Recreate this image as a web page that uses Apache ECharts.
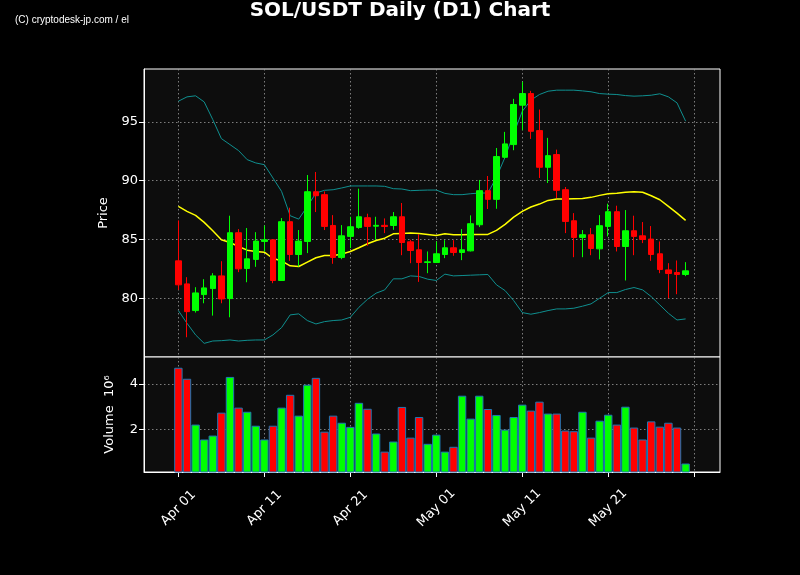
<!DOCTYPE html>
<html>
<head>
<meta charset="utf-8">
<script src="https://cdn.jsdelivr.net/npm/echarts@6/dist/echarts.min.js"></script>
<style>
html,body{margin:0;padding:0;background:#000;}
#chart{width:800px;height:575px;}
</style>
</head>
<body>
<div id="chart"></div>
<script>
// ---- data ----
const leadDates = ['Mar 28','Mar 29','Mar 30','Mar 31'];
const dates = [
 'Apr 01','Apr 02','Apr 03','Apr 04','Apr 05','Apr 06','Apr 07','Apr 08','Apr 09','Apr 10',
 'Apr 11','Apr 12','Apr 13','Apr 14','Apr 15','Apr 16','Apr 17','Apr 18','Apr 19','Apr 20',
 'Apr 21','Apr 22','Apr 23','Apr 24','Apr 25','Apr 26','Apr 27','Apr 28','Apr 29','Apr 30',
 'May 01','May 02','May 03','May 04','May 05','May 06','May 07','May 08','May 09','May 10',
 'May 11','May 12','May 13','May 14','May 15','May 16','May 17','May 18','May 19','May 20',
 'May 21','May 22','May 23','May 24','May 25','May 26','May 27','May 28','May 29','May 30'
];
const trailDates = ['May 31','Jun 01','Jun 02','Jun 03'];
const tickDates = ['Apr 01','Apr 11','Apr 21','May 01','May 11','May 21','May 31'];
const tickLabels = ['Apr 01','Apr 11','Apr 21','May 01','May 11','May 21'];

const open = [
 83.18,81.22,78.95,80.31,80.82,81.90,79.97,85.57,82.53,83.30,
 84.83,84.97,81.51,86.51,83.72,84.83,89.06,88.81,86.19,83.47,
 85.26,86.02,86.85,86.13,86.20,86.19,86.93,84.80,84.12,83.04,
 83.04,83.72,84.29,83.89,84.03,86.25,89.15,88.41,91.99,93.07,
 96.42,97.41,94.26,91.14,92.22,89.23,86.59,85.17,85.40,84.20,
 86.11,87.36,84.40,85.74,85.31,85.03,83.78,82.41,82.19,82.02
];
const close = [
 81.14,78.86,80.45,80.88,81.90,79.94,85.57,82.50,83.35,84.86,
 84.97,81.51,86.51,83.72,84.86,89.06,88.72,86.11,83.47,85.31,
 86.08,86.93,86.11,86.20,86.10,86.93,84.74,84.06,83.04,83.10,
 83.78,84.29,83.89,84.12,86.34,89.15,88.41,92.05,93.13,96.48,
 97.41,94.20,91.14,92.13,89.18,86.53,85.17,85.40,84.23,86.17,
 87.36,84.40,85.74,85.26,85.00,83.72,82.44,82.10,82.02,82.33
];
const low = [
 80.71,76.68,78.78,79.57,78.52,79.57,78.38,82.22,81.36,82.67,
 83.98,81.28,81.50,83.18,82.70,83.84,87.33,85.80,82.93,83.32,
 84.26,85.91,84.46,84.97,85.54,85.82,83.66,82.98,81.39,82.13,
 83.00,83.41,83.61,83.24,83.98,86.05,87.59,87.61,91.90,92.59,
 94.29,93.55,90.23,89.80,88.52,85.54,83.49,83.49,83.66,83.30,
 85.26,83.98,81.51,83.66,84.69,83.18,82.13,80.00,80.34,81.88
];
const high = [
 86.62,81.79,80.94,81.62,82.13,83.15,87.02,85.88,85.97,85.62,
 86.19,85.00,86.82,87.70,85.80,90.48,90.74,89.09,87.07,86.22,
 86.93,89.32,87.19,86.93,86.79,87.33,88.10,84.97,85.45,83.98,
 84.83,84.94,84.94,85.88,87.05,90.06,90.40,92.78,94.15,96.96,
 98.41,97.64,96.05,93.64,92.64,89.46,87.24,85.80,85.97,87.07,
 88.04,87.87,87.50,87.02,86.48,86.14,84.83,82.98,83.21,83.07
];
// volume in units of 10^6
const volume = [
 4.70,4.22,2.22,1.57,1.74,2.74,4.30,2.96,2.78,2.17,
 1.57,2.17,2.96,3.52,2.61,3.96,4.26,1.91,2.61,2.30,
 2.12,3.17,2.91,1.83,1.04,1.48,2.99,1.65,2.55,1.38,
 1.78,1.04,1.25,3.48,2.48,3.48,2.90,2.64,2.00,2.55,
 3.09,2.83,3.22,2.70,2.70,1.96,1.93,2.78,1.65,2.39,
 2.65,2.22,3.00,2.09,1.57,2.36,2.13,2.30,2.09,0.52
];
const sma = [
 87.81,87.39,87.05,86.45,85.74,84.97,84.74,84.40,84.09,83.98,
 83.92,83.38,83.18,82.76,82.70,83.07,83.44,83.64,83.64,83.75,
 83.98,84.29,84.63,84.91,85.11,85.48,85.51,85.54,85.51,85.43,
 85.34,85.48,85.40,85.40,85.43,85.43,85.43,85.77,86.28,86.90,
 87.39,87.76,88.01,88.32,88.44,88.44,88.47,88.49,88.58,88.75,
 88.89,88.92,89.01,89.06,89.01,88.72,88.38,87.81,87.24,86.62
];
const upperBand = [
 96.76,97.13,97.22,96.70,95.20,93.58,93.07,92.56,91.79,91.51,
 91.36,90.23,89.09,87.02,86.73,87.81,88.95,89.18,89.23,89.38,
 89.55,89.55,89.55,89.55,89.52,89.32,89.29,89.15,89.18,89.20,
 89.20,88.92,88.81,88.81,88.89,88.95,88.95,90.30,92.00,94.00,
 95.90,96.85,97.33,97.61,97.70,97.70,97.70,97.64,97.56,97.41,
 97.36,97.33,97.24,97.19,97.22,97.27,97.39,97.13,96.62,95.06
];
const lowerBand = [
 78.95,77.87,76.88,76.16,76.36,76.39,76.45,76.36,76.42,76.45,
 76.45,76.88,77.50,78.58,78.67,78.10,77.81,78.01,78.10,78.15,
 78.38,79.23,79.91,80.43,80.71,81.65,81.65,81.90,81.85,81.62,
 81.51,82.05,81.90,81.93,81.96,81.99,82.02,81.14,80.65,79.80,
 78.78,78.64,78.78,78.95,79.09,79.09,79.15,79.32,79.52,80.00,
 80.48,80.48,80.74,80.91,80.71,80.14,79.43,78.72,78.15,78.24
];

// ---- build ----
const UP = '#00ff00', DOWN = '#ff0000';
const categories = [...leadDates, ...dates, ...trailDates];
const padL = leadDates.map(() => '-');
const padR = trailDates.map(() => '-');
const candleData = dates.map((d, i) => [d, open[i], close[i], low[i], high[i]]);
const volData = dates.map((d, i) => ({
  value: [d, volume[i]],
  itemStyle: { color: close[i] >= open[i] ? UP : DOWN }
}));
const isTick = (idx, val) => tickDates.indexOf(val) >= 0;
const isLabel = (idx, val) => tickLabels.indexOf(val) >= 0;
const FONT = 'DejaVu Sans';
const gridLine = { show: true, interval: isTick, lineStyle: { color: '#9a9a9a', width: 0.8, type: [1.5, 2.5] } };
const gridLineY = { show: true, lineStyle: { color: '#9a9a9a', width: 0.8, type: [1.5, 2.5] } };

const chart = echarts.init(document.getElementById('chart'), null, { renderer: 'canvas' });
chart.setOption({
  backgroundColor: '#000000',
  animation: false,
  title: {
    text: 'SOL/USDT Daily (D1) Chart',
    left: 'center', top: 1, padding: 0,
    textStyle: { color: '#ffffff', fontSize: 20, fontWeight: 'bold', fontFamily: FONT }
  },
  graphic: [{
    type: 'text', left: 15, top: 15,
    style: { text: '(C) cryptodesk-jp.com / el', fill: '#ffffff', fontSize: 10, fontFamily: 'Liberation Sans Narrow, Liberation Sans, sans-serif' }
  }],
  grid: [
    { left: 144, top: 69, width: 576, height: 288, show: true, backgroundColor: '#0d0d0d', borderColor: '#ffffff', borderWidth: 1 },
    { left: 144, top: 357, width: 576, height: 115, show: true, backgroundColor: '#0d0d0d', borderColor: '#ffffff', borderWidth: 1 }
  ],
  xAxis: [
    { type: 'category', gridIndex: 0, data: categories, boundaryGap: false,
      axisLine: { show: false }, axisTick: { show: false }, axisLabel: { show: false },
      splitLine: gridLine },
    { type: 'category', gridIndex: 1, data: categories, boundaryGap: false,
      axisLine: { show: true, lineStyle: { color: '#ffffff' } },
      axisTick: { show: true, interval: isTick, length: 5, lineStyle: { color: '#ffffff' } },
      axisLabel: { show: true, interval: isLabel, rotate: 45, align: 'center', verticalAlign: 'middle', margin: 36,
        color: '#ffffff', fontSize: 13, fontFamily: FONT },
      splitLine: gridLine }
  ],
  yAxis: [
    { type: 'value', gridIndex: 0, min: 75.0, max: 99.5, minInterval: 5, maxInterval: 5, scale: true,
      name: 'Price', nameLocation: 'middle', nameGap: 34, nameRotate: 90,
      nameTextStyle: { color: '#ffffff', fontSize: 13, fontFamily: FONT },
      axisLine: { show: true, lineStyle: { color: '#ffffff' } },
      axisTick: { show: true, length: 5, customValues: [80, 85, 90, 95], lineStyle: { color: '#ffffff' } },
      axisLabel: { customValues: [80, 85, 90, 95], color: '#ffffff', fontSize: 13, fontFamily: FONT, margin: 6 },
      splitLine: gridLineY },
    { type: 'value', gridIndex: 1, min: 0.15, max: 5.17, minInterval: 2, maxInterval: 2,
      name: 'Volume  10\u2076', nameLocation: 'middle', nameGap: 28, nameRotate: 90,
      nameTextStyle: { color: '#ffffff', fontSize: 13, fontFamily: FONT },
      axisLine: { show: true, lineStyle: { color: '#ffffff' } },
      axisTick: { show: true, length: 5, customValues: [2, 4], lineStyle: { color: '#ffffff' } },
      axisLabel: { customValues: [2, 4], color: '#ffffff', fontSize: 13, fontFamily: FONT, margin: 6 },
      splitLine: gridLineY }
  ],
  series: [
    { name: 'Upper', type: 'line', xAxisIndex: 0, yAxisIndex: 0, data: [...padL, ...upperBand, ...padR],
      symbol: 'none', lineStyle: { color: '#0f8f8f', width: 1 }, z: 2 },
    { name: 'Lower', type: 'line', xAxisIndex: 0, yAxisIndex: 0, data: [...padL, ...lowerBand, ...padR],
      symbol: 'none', lineStyle: { color: '#0f8f8f', width: 1 }, z: 2 },
    { name: 'SMA', type: 'line', xAxisIndex: 0, yAxisIndex: 0, data: [...padL, ...sma, ...padR],
      symbol: 'none', lineStyle: { color: '#ffff00', width: 1.5 }, z: 3 },
    { name: 'Candles', type: 'candlestick', xAxisIndex: 0, yAxisIndex: 0, data: candleData,
      encode: { x: 0, y: [1, 2, 3, 4] }, barWidth: 6, z: 4,
      itemStyle: { color: UP, color0: DOWN, borderColor: UP, borderColor0: DOWN, borderWidth: 1 } },
    { name: 'Volume', type: 'bar', xAxisIndex: 1, yAxisIndex: 1, data: volData,
      barWidth: 8.4, itemStyle: { borderColor: '#1f77b4', borderWidth: 1 } }
  ]
});
</script>
</body>
</html>
